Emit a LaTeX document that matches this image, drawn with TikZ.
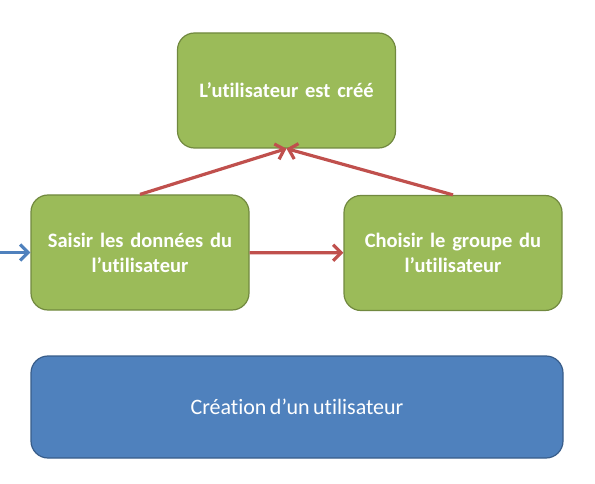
\documentclass[tikz,border=0pt]{standalone}
\usepackage{fontspec}
\setmainfont[Ligatures=NoCommon, WordSpace=0.7]{Carlito}
\usepackage{tikz}
\usetikzlibrary{arrows.meta, positioning}
\definecolor{stepgreen}{RGB}{155, 187, 89}
\definecolor{stepgreenline}{RGB}{113, 137, 63}
\definecolor{mainblue}{RGB}{79, 129, 189}
\definecolor{mainblueline}{RGB}{56, 93, 138}
\definecolor{flowred}{RGB}{192, 80, 77}
\tikzstyle{action} = [rectangle, rounded corners=17pt, minimum width=218pt, minimum height=115pt, text width=210pt, align=center, draw=stepgreenline, line width=1.2pt, fill=stepgreen, text=white, font=\fontsize{20.5}{25}\selectfont\bfseries]
\tikzstyle{process} = [rectangle, rounded corners=17pt, minimum width=532pt, minimum height=102pt, align=center, draw=mainblueline, line width=1.2pt, fill=mainblue, text=white, font=\fontsize{22}{26}\selectfont]
\tikzstyle{flow} = [line width=3.2pt, draw=flowred, -{Straight Barb[length=8pt, width=16pt]}]
\tikzstyle{entry} = [line width=3.2pt, draw=mainblue, -{Straight Barb[length=8pt, width=16pt]}]

\begin{document}
\begin{tikzpicture}[x=1pt, y=-1pt]
    \useasboundingbox (0,0) rectangle (595,484);
    % Steps
    \node[action] (created) at (286.5, 90.5) {L’utilisateur est créé};
    \node[action] (input) at (140, 252.5) {Saisir les données du\\ l’utilisateur};
    \node[action] (group) at (453, 253) {Choisir le groupe du\\ l’utilisateur};

    % Whole process
    \node[process] (creation) at (297, 407) {Création d’un utilisateur};

    % Connectors
    \coordinate (start) at (0, 252.5);
    \draw[entry] (start) -- (input);
    \draw[flow] (input) -- (group);
    \draw[flow] (input.north) -- (created.south);
    \draw[flow] (group.north) -- (created.south);
\end{tikzpicture}
\end{document}
